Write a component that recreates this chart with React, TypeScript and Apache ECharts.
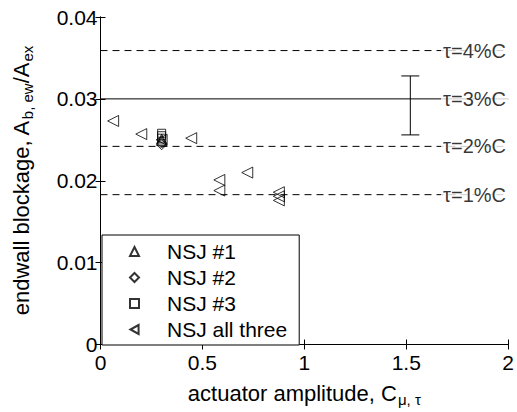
import React, { useEffect, useRef } from "react";
import * as echarts from "echarts";

const nsj1: number[][] = [[0.3, 0.0251], [0.3, 0.0249]];
const nsj2: number[][] = [[0.3, 0.0246], [0.3, 0.0244]];
const nsj3: number[][] = [[0.3, 0.0258], [0.3, 0.0255], [0.3, 0.0252]];
const nsjAll: number[][] = [
  [0.062, 0.0273], [0.2, 0.0257], [0.3, 0.025], [0.445, 0.0252],
  [0.583, 0.0201], [0.583, 0.0188], [0.72, 0.021],
  [0.875, 0.0186], [0.875, 0.0181], [0.875, 0.0176],
];
const tauLevels: number[] = [0.0359, 0.03, 0.0242, 0.0183];
const tauNames: string[] = ["τ=4%C", "τ=3%C", "τ=2%C", "τ=1%C"];
const tauDashed: boolean[] = [true, false, true, true];
const tauLabelX = 1.835;
const errorBar: number[] = [1.52, 0.0256, 0.0328];
const xTicks: number[] = [0, 0.5, 1, 1.5, 2];
const yTicks: number[] = [0, 0.01, 0.02, 0.03, 0.04];

const FONT = "Liberation Sans";
const leftTri = "path://M10,0 L0,5.5 L10,11 Z";

export default function App() {
  const ref = useRef<HTMLDivElement>(null);
  useEffect(() => {
    document.body.style.margin = "0";
    const chart = echarts.init(ref.current!, null, { renderer: "svg" });
    const markerStyle = { color: "transparent", borderColor: "#000", borderWidth: 1 };
    const scatterBase = (name: string, symbol: string, data: number[][], size: number) => ({
      name, type: "scatter", symbol, symbolSize: size, data,
      itemStyle: markerStyle, emphasis: { disabled: true }, z: 5,
    });
    const series: any[] = [];
    tauLevels.forEach((y, i) => {
      series.push({
        type: "line", data: [[0, y], [2, y]], symbol: "none", silent: true,
        lineStyle: { color: "#000", width: 1, type: tauDashed[i] ? [7, 5] : "solid" }, z: 2,
      });
    });
    series.push({
      type: "scatter", symbolSize: 1, itemStyle: { color: "transparent" }, silent: true, z: 6,
      data: tauLevels.map((y, i) => ({ value: [tauLabelX, y], name: tauNames[i] })),
      label: {
        show: true, position: "inside", formatter: "{b}", color: "#000",
        fontFamily: FONT, fontSize: 20, backgroundColor: "#fff", padding: [0, 2],
      },
    });
    series.push({
      type: "custom", silent: true, z: 4,
      data: [errorBar],
      renderItem: (_p: any, api: any) => {
        const x = api.value(0);
        const lo = api.coord([x, api.value(1)]);
        const hi = api.coord([x, api.value(2)]);
        const w = 9;
        const st = { stroke: "#000", lineWidth: 1 };
        return {
          type: "group",
          children: [
            { type: "line", shape: { x1: lo[0], y1: lo[1], x2: hi[0], y2: hi[1] }, style: st },
            { type: "line", shape: { x1: lo[0] - w, y1: lo[1], x2: lo[0] + w, y2: lo[1] }, style: st },
            { type: "line", shape: { x1: hi[0] - w, y1: hi[1], x2: hi[0] + w, y2: hi[1] }, style: st },
          ],
        };
      },
    });
    series.push(scatterBase("NSJ #1", "triangle", nsj1, 10));
    series.push(scatterBase("NSJ #2", "diamond", nsj2, 10));
    series.push(scatterBase("NSJ #3", "rect", nsj3, 8));
    series.push(scatterBase("NSJ all three", leftTri, nsjAll, 11));

    const axisCommon = {
      axisLine: { show: true, lineStyle: { color: "#000", width: 1 } },
      axisTick: { show: true, inside: true, length: 5, lineStyle: { color: "#000" } },
      splitLine: { show: false },
    };
    const rich = {
      n: { fontFamily: FONT, fontSize: 22, color: "#000", lineHeight: 26 },
      s: { fontFamily: FONT, fontSize: 15, color: "#000", padding: [12, 0, 0, 1], lineHeight: 26 },
    };
    chart.setOption({
      animation: false,
      backgroundColor: "#fff",
      grid: { left: 95, right: 3, top: 17, bottom: 62 },
      legend: {
        data: ["NSJ #1", "NSJ #2", "NSJ #3", "NSJ all three"],
        orient: "vertical", left: 102, top: 235,
        borderColor: "#000", borderWidth: 1, backgroundColor: "#fff",
        padding: [6, 12, 5, 27],
        itemWidth: 9, itemHeight: 9, itemGap: 5,
        textStyle: { fontFamily: FONT, fontSize: 21, color: "#000", padding: [0, 0, 0, 23], lineHeight: 21 },
        selectedMode: false,
      },
      xAxis: [
        {
          type: "value", min: 0, max: 2, interval: 0.5, position: "bottom",
          ...axisCommon,
          axisLabel: { fontFamily: FONT, fontSize: 21, color: "#000", margin: 7,
            formatter: (v: number) => (xTicks.includes(v) ? String(v) : "") },
          name: "{n|actuator amplitude, C}{s|μ, τ}",
          nameLocation: "middle", nameGap: 36,
          nameTextStyle: { fontFamily: FONT, color: "#000", rich },
        },
        { type: "value", min: 0, max: 2, interval: 0.5, position: "top", ...axisCommon, axisLabel: { show: false } },
      ],
      yAxis: [
        {
          type: "value", min: 0, max: 0.04, interval: 0.01, position: "left",
          ...axisCommon,
          axisLabel: { fontFamily: FONT, fontSize: 21, color: "#000", margin: 3,
            formatter: (v: number) => {
              const t = yTicks.find((k) => Math.abs(k - v) < 1e-9);
              return t === undefined ? "" : String(t);
            } },
          name: "{n|endwall blockage, A}{s|b, ew}{n|/A}{s|ex}",
          nameLocation: "middle", nameGap: 66,
          nameTextStyle: { fontFamily: FONT, color: "#000", rich },
        },
        { type: "value", min: 0, max: 0.04, interval: 0.01, position: "right", ...axisCommon, axisLabel: { show: false } },
      ],
      series,
    });
    return () => chart.dispose();
  }, []);
  return <div ref={ref} style={{ width: 517, height: 412 }} />;
}
